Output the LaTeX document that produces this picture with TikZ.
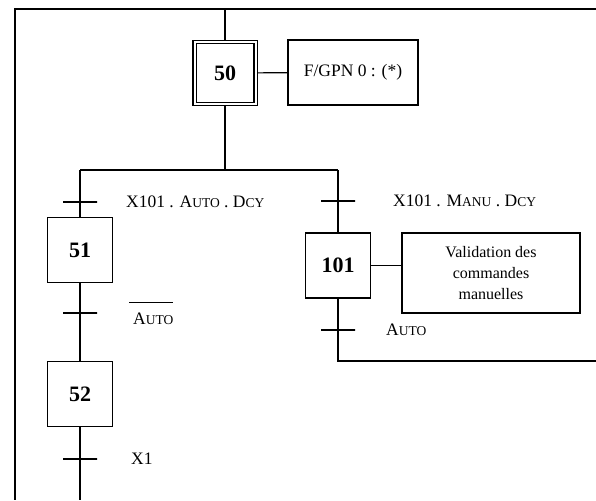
\documentclass[tikz,border=0pt]{standalone}
\usepackage{fontspec}
\setmainfont{Liberation Serif}
\usetikzlibrary{positioning}
\newcommand{\pcap}[2]{#1{\fontsize{13.5}{16}\selectfont #2}}
\newcommand{\barre}[1]{\vbox{\hrule height 1pt\kern 10pt\hbox{\kern 4pt #1}}}
\tikzset{
  liaison/.style={line width=1.2pt},
  etape/.style={draw, line width=1.2pt, minimum width=65pt, minimum height=65pt, inner sep=0pt,
    font=\fontsize{22}{24}\selectfont\bfseries},
  initiale/.style={etape, double, double distance=2pt, line width=1.3pt,
    minimum width=61pt, minimum height=62pt, outer sep=2.3pt},
  action/.style={draw, line width=1.2pt, inner sep=0pt, align=center,
    font=\fontsize{17.5}{21}\selectfont},
  trans/.style={draw, line width=1.2pt, minimum width=34pt, minimum height=0pt, inner sep=0pt},
  recept/.style={inner sep=0pt, font=\fontsize{17.5}{20}\selectfont}
}

\begin{document}
\begin{tikzpicture}[x=1pt, y=-1pt, liaison]
  \useasboundingbox (0,0) rectangle (596,500);
  \node[initiale] (e50) at (225,73) {50};
  \node[action, minimum width=130pt, minimum height=65pt] (a50) at (353,72.5) {F/GPN 0 : (*)};
  \node[etape] (e51) at (80,250) {51};
  \node[etape] (e52) at (80,394) {52};
  \node[etape] (e101) at (338,265.5) {101};
  \node[action, minimum width=178pt, minimum height=80pt, font=\fontsize{16}{21}\selectfont]
    (a101) at (491,273) {Validation des\\commandes\\manuelles};

  \node[trans] (t51) at (80,202) {};
  \node[trans] (t101) at (338,201) {};
  \node[trans] (t52) at (80,313) {};
  \node[trans] (tx1) at (80,459) {};
  \node[trans] (tauto) at (338,330) {};

  \node[recept, right=28pt of t51] (r51) {X101 . \pcap{A}{UTO} . \pcap{D}{CY}};
  \node[recept, right=37pt of t101] (r101) {X101 . \pcap{M}{ANU} . \pcap{D}{CY}};
  \node[recept, right=31pt of t52] (r52) {\barre{\pcap{A}{UTO}}};
  \node[recept, right=33pt of tx1] (rx1) {X1};
  \node[recept, right=30pt of tauto] (rauto) {\pcap{A}{UTO}};

  \coordinate (haut) at (225,9);
  \coordinate (coinG) at (15,9);
  \coordinate (coinD) at (596,9);
  \coordinate (basG) at (15,500);
  \coordinate (div) at (225,170);
  \coordinate (divG) at (80,170);
  \coordinate (divD) at (338,170);
  \coordinate (fin52) at (80,500);
  \coordinate (retour) at (596,361);

  \draw (coinD) -- (coinG) -- (basG);
  \draw (haut) -- (e50.north);
  \draw (e50.south) -- (div);
  \draw (divG) -- (divD);
  \draw (divG) -- (t51) -- (e51);
  \draw (divD) -- (t101) -- (e101);
  \draw (e51) -- (t52) -- (e52);
  \draw (e52) -- (tx1) -- (fin52);
  \draw (e101) -- (tauto) |- (retour);
  \draw (e50) -- (a50);
  \draw (e101) -- (e101 -| a101.west);
\end{tikzpicture}
\end{document}
